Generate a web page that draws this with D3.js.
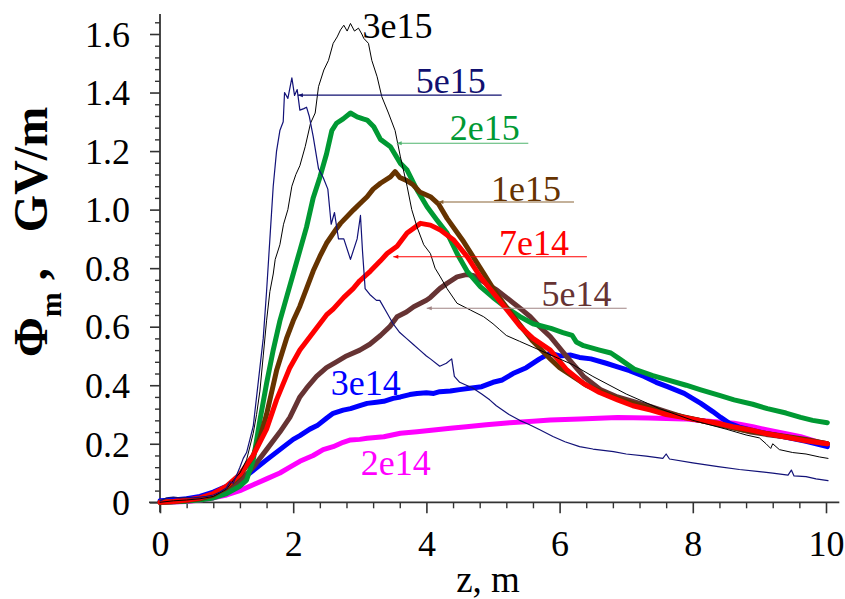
<!DOCTYPE html>
<html>
<head>
<meta charset="utf-8">
<script src="https://cdn.jsdelivr.net/npm/d3@7"></script>
<style>
  body { margin: 0; background: #fff; }
</style>
</head>
<body>
<div id="chart"></div>
<script>
// data: [z in m, phi_m in GV/m]
const s5e15 = [[0,0.005],[0.1,0.015],[0.2,0.018],[0.3,0.015],[0.4,0.017],[0.5,0.015],[0.6,0.018],[0.7,0.02],[0.8,0.025],[0.9,0.035],[1.0,0.05],[1.05,0.07],[1.1,0.065],[1.2,0.12],[1.25,0.15],[1.3,0.17],[1.4,0.26],[1.45,0.36],[1.5,0.46],[1.55,0.56],[1.6,0.72],[1.65,0.9],[1.7,1.08],[1.75,1.2],[1.8,1.27],[1.85,1.3],[1.87,1.4],[1.92,1.38],[1.98,1.45],[2.02,1.39],[2.06,1.41],[2.1,1.34],[2.16,1.345],[2.2,1.35],[2.24,1.32],[2.3,1.25],[2.38,1.14],[2.45,1.11],[2.52,1.07],[2.57,0.95],[2.62,0.99],[2.68,0.9],[2.76,0.9],[2.86,0.83],[2.96,0.9],[3.01,0.98],[3.04,0.86],[3.08,0.73],[3.15,0.71],[3.25,0.69],[3.3,0.69],[3.4,0.65],[3.5,0.61],[3.6,0.58],[3.7,0.56],[3.8,0.54],[3.9,0.52],[4.0,0.5],[4.06,0.49],[4.2,0.465],[4.3,0.475],[4.38,0.49],[4.42,0.43],[4.5,0.41],[4.6,0.4],[4.7,0.39],[4.83,0.37],[4.95,0.35],[5.05,0.33],[5.24,0.3],[5.4,0.28],[5.55,0.265],[5.71,0.247],[5.9,0.225],[6.08,0.207],[6.3,0.19],[6.5,0.182],[6.81,0.173],[7.0,0.165],[7.3,0.158],[7.55,0.15],[7.6,0.165],[7.65,0.148],[8.0,0.135],[8.38,0.122],[8.7,0.112],[9.0,0.105],[9.2,0.1],[9.43,0.093],[9.48,0.11],[9.52,0.09],[9.7,0.088],[9.85,0.08],[10.03,0.074]];
const s3e15 = [[0,0],[0.2,0.005],[0.4,0.008],[0.6,0.012],[0.8,0.02],[1.0,0.045],[1.1,0.075],[1.2,0.1],[1.3,0.145],[1.4,0.236],[1.45,0.3],[1.5,0.38],[1.55,0.5],[1.6,0.62],[1.65,0.72],[1.7,0.78],[1.73,0.83],[1.8,0.88],[1.855,0.95],[1.92,1.0],[1.98,1.08],[2.04,1.12],[2.1,1.15],[2.18,1.215],[2.26,1.295],[2.33,1.33],[2.38,1.42],[2.46,1.477],[2.53,1.51],[2.6,1.568],[2.66,1.59],[2.71,1.614],[2.76,1.63],[2.81,1.61],[2.86,1.636],[2.92,1.61],[2.98,1.62],[3.03,1.6],[3.06,1.585],[3.13,1.568],[3.18,1.51],[3.26,1.454],[3.33,1.386],[3.43,1.33],[3.53,1.27],[3.61,1.18],[3.71,1.08],[3.78,1.0],[3.86,0.94],[3.96,0.88],[4.06,0.85],[4.13,0.8],[4.21,0.77],[4.31,0.73],[4.46,0.68],[4.66,0.657],[4.86,0.634],[5.0,0.61],[5.1,0.59],[5.2,0.57],[5.4,0.55],[5.6,0.53],[5.8,0.51],[6.0,0.49],[6.2,0.47],[6.5,0.43],[7.0,0.37],[7.5,0.32],[8.0,0.28],[8.5,0.25],[8.8,0.23],[9.0,0.22],[9.1,0.2],[9.17,0.184],[9.2,0.2],[9.3,0.18],[9.5,0.17],[9.7,0.165],[9.9,0.155],[10.03,0.15]];
const s2e15 = [[0,0],[0.2,0.002],[0.4,0.004],[0.6,0.008],[0.8,0.015],[1.0,0.03],[1.2,0.055],[1.3,0.076],[1.4,0.145],[1.5,0.28],[1.6,0.406],[1.7,0.52],[1.8,0.62],[1.9,0.7],[2.0,0.78],[2.1,0.86],[2.2,0.94],[2.3,1.04],[2.4,1.11],[2.5,1.19],[2.58,1.27],[2.65,1.295],[2.75,1.31],[2.86,1.33],[2.96,1.317],[3.05,1.31],[3.11,1.306],[3.21,1.283],[3.31,1.24],[3.46,1.215],[3.61,1.158],[3.71,1.135],[3.86,1.067],[4.01,1.01],[4.16,0.964],[4.31,0.92],[4.46,0.85],[4.61,0.79],[4.81,0.737],[5.0,0.7],[5.2,0.665],[5.4,0.635],[5.6,0.61],[5.87,0.594],[6.05,0.58],[6.19,0.57],[6.25,0.548],[6.36,0.535],[6.6,0.52],[6.77,0.51],[6.9,0.49],[7.12,0.455],[7.4,0.433],[7.62,0.418],[7.9,0.4],[8.12,0.384],[8.4,0.365],[8.62,0.35],[8.9,0.335],[9.12,0.32],[9.4,0.305],[9.62,0.29],[9.8,0.28],[10.02,0.272]];
const s1e15 = [[0,0],[0.2,0.003],[0.4,0.006],[0.6,0.012],[0.8,0.025],[1.0,0.05],[1.2,0.09],[1.4,0.16],[1.5,0.22],[1.6,0.3],[1.75,0.45],[1.9,0.56],[2.0,0.62],[2.1,0.67],[2.2,0.73],[2.3,0.79],[2.4,0.84],[2.5,0.885],[2.65,0.935],[2.71,0.953],[2.91,1.0],[3.0,1.02],[3.11,1.044],[3.2,1.07],[3.31,1.09],[3.46,1.112],[3.53,1.13],[3.6,1.11],[3.7,1.1],[3.8,1.085],[3.9,1.06],[4.06,1.044],[4.18,1.02],[4.31,0.97],[4.56,0.89],[4.81,0.8],[5.06,0.71],[5.31,0.634],[5.46,0.59],[5.6,0.55],[5.86,0.49],[6.0,0.46],[6.2,0.43],[6.4,0.4],[6.6,0.38],[6.8,0.36],[7.0,0.345],[7.3,0.325],[7.6,0.305],[7.9,0.29],[8.2,0.275],[8.5,0.26],[8.8,0.245],[9.1,0.235],[9.4,0.225],[9.7,0.215],[10.02,0.2]];
const s7e14 = [[0,0],[0.2,0.003],[0.4,0.008],[0.6,0.015],[0.8,0.03],[1.0,0.055],[1.2,0.095],[1.4,0.16],[1.6,0.25],[1.75,0.35],[1.95,0.46],[2.1,0.52],[2.2,0.55],[2.3,0.58],[2.4,0.61],[2.5,0.64],[2.6,0.66],[2.76,0.7],[2.9,0.73],[3.0,0.757],[3.16,0.79],[3.31,0.825],[3.41,0.85],[3.56,0.875],[3.71,0.92],[3.91,0.953],[4.06,0.947],[4.21,0.93],[4.41,0.896],[4.61,0.84],[4.81,0.77],[5.01,0.714],[5.21,0.657],[5.41,0.6],[5.6,0.56],[5.86,0.52],[6.11,0.452],[6.36,0.406],[6.6,0.375],[6.87,0.35],[7.1,0.33],[7.37,0.315],[7.6,0.3],[7.87,0.29],[8.1,0.28],[8.37,0.27],[8.6,0.258],[8.87,0.247],[9.1,0.235],[9.37,0.224],[9.7,0.21],[10.02,0.2]];
const s5e14 = [[0,0],[0.2,0.002],[0.4,0.005],[0.6,0.01],[0.8,0.02],[1.0,0.04],[1.2,0.07],[1.4,0.12],[1.6,0.18],[1.8,0.24],[1.95,0.29],[2.1,0.36],[2.2,0.39],[2.35,0.43],[2.5,0.46],[2.65,0.48],[2.8,0.5],[3.0,0.52],[3.15,0.54],[3.31,0.57],[3.45,0.6],[3.56,0.634],[3.7,0.65],[3.81,0.668],[4.0,0.69],[4.06,0.7],[4.2,0.73],[4.31,0.748],[4.46,0.77],[4.6,0.778],[4.7,0.775],[4.81,0.76],[4.95,0.74],[5.06,0.725],[5.2,0.7],[5.31,0.68],[5.45,0.655],[5.56,0.634],[5.7,0.6],[5.86,0.566],[6.11,0.497],[6.36,0.43],[6.62,0.384],[6.87,0.36],[7.1,0.345],[7.37,0.327],[7.6,0.31],[7.87,0.29],[8.1,0.28],[8.37,0.27],[8.6,0.255],[8.87,0.24],[9.1,0.232],[9.37,0.224],[9.7,0.212],[10.02,0.2]];
const s3e14 = [[0,0.005],[0.2,0.008],[0.4,0.012],[0.6,0.02],[0.8,0.035],[1.0,0.055],[1.2,0.08],[1.35,0.1],[1.6,0.145],[1.8,0.18],[2.0,0.215],[2.1,0.228],[2.25,0.25],[2.36,0.262],[2.5,0.287],[2.6,0.304],[2.75,0.315],[2.86,0.32],[3.0,0.33],[3.11,0.338],[3.25,0.342],[3.36,0.345],[3.5,0.355],[3.61,0.36],[3.75,0.368],[3.86,0.372],[4.0,0.374],[4.11,0.372],[4.2,0.378],[4.36,0.38],[4.5,0.385],[4.65,0.39],[4.83,0.395],[5.0,0.41],[5.14,0.418],[5.3,0.44],[5.5,0.46],[5.7,0.49],[5.86,0.51],[6.0,0.5],[6.17,0.503],[6.3,0.495],[6.47,0.49],[6.7,0.475],[6.87,0.463],[7.05,0.45],[7.27,0.43],[7.45,0.41],[7.62,0.395],[7.87,0.372],[8.12,0.338],[8.3,0.31],[8.42,0.29],[8.55,0.27],[8.7,0.257],[8.87,0.247],[9.1,0.235],[9.37,0.224],[9.7,0.208],[10.02,0.19]];
const s2e14 = [[0,0],[0.2,0.001],[0.4,0.003],[0.6,0.008],[0.8,0.015],[1.0,0.025],[1.2,0.04],[1.4,0.06],[1.6,0.08],[1.8,0.1],[1.95,0.12],[2.1,0.14],[2.3,0.16],[2.45,0.18],[2.6,0.19],[2.75,0.205],[2.86,0.213],[3.0,0.215],[3.11,0.219],[3.36,0.224],[3.61,0.236],[3.86,0.241],[4.11,0.247],[4.36,0.253],[4.6,0.258],[4.9,0.265],[5.25,0.272],[5.6,0.277],[5.86,0.281],[6.3,0.285],[6.87,0.29],[7.34,0.288],[7.87,0.285],[8.2,0.278],[8.62,0.27],[8.9,0.258],[9.12,0.247],[9.4,0.234],[9.62,0.224],[9.85,0.208],[10.02,0.196]];

const xMajor = [0, 2, 4, 6, 8, 10];
const yMajor = [0, 0.2, 0.4, 0.6, 0.8, 1.0, 1.2, 1.4, 1.6];
const yTickLabels = ["0", "0.2", "0.4", "0.6", "0.8", "1.0", "1.2", "1.4", "1.6"];

const w = 845, h = 599;
const serif = '"Liberation Serif"';

const svg = d3.select('#chart')
  .append('svg')
  .attr('width', w)
  .attr('height', h);

const x = d3.scaleLinear().domain([0, 10]).range([160, 826]);
const y = d3.scaleLinear().domain([0, 1.6]).range([502.3, 34]);

// series styling (drawing order = back to front)
const series = [
  { name: "2e14", data: s2e14, color: "#ff00ff", width: 5 },
  { name: "3e14", data: s3e14, color: "#0000ff", width: 5 },
  { name: "5e14", data: s5e14, color: "#663333", width: 5 },
  { name: "2e15", data: s2e15, color: "#009933", width: 5 },
  { name: "1e15", data: s1e15, color: "#663300", width: 5 },
  { name: "7e14", data: s7e14, color: "#ff0000", width: 5 },
  { name: "3e15", data: s3e15, color: "#000000", width: 1 },
  { name: "5e15", data: s5e15, color: "#121278", width: 1.2 }
];

// label placement in data units: text start, baseline, optional leader line
const labels = [
  { name: "3e15", color: "#000000", tx: 3.04, ty: 1.586 },
  { name: "5e15", color: "#101070", tx: 3.84, ty: 1.398, lx0: 2.07, lx1: 5.13, ly: 1.391, lc: "#101070" },
  { name: "2e15", color: "#009933", tx: 4.35, ty: 1.238, lx0: 3.554, lx1: 5.53, ly: 1.2265, lc: "#4fb46e" },
  { name: "1e15", color: "#663300", tx: 4.97, ty: 1.029, lx0: 4.18, lx1: 6.216, ly: 1.026, lc: "#8a6436" },
  { name: "7e14", color: "#ff0000", tx: 5.09, ty: 0.845, lx0: 3.503, lx1: 6.41, ly: 0.839, lc: "#ff0000" },
  { name: "5e14", color: "#663333", tx: 5.73, ty: 0.672, lx0: 4.005, lx1: 7.007, ly: 0.663, lc: "#a08484" },
  { name: "3e14", color: "#0000ff", tx: 2.565, ty: 0.367 },
  { name: "2e14", color: "#ff00ff", tx: 3.015, ty: 0.0933 }
];

// axes
const axisColor = "#333";
const yMinor = d3.range(0, 1.66, 0.04).filter(v => yMajor.every(m => Math.abs(m - v) > 1e-6));
const xMinor = d3.range(0, 10.21, 0.4).filter(v => xMajor.every(m => Math.abs(m - v) > 1e-6));

const yAxisG = svg.append('g').attr('transform', 'translate(160,0)');
yAxisG.call(d3.axisLeft(y).tickValues(yMajor).tickSize(10).tickSizeOuter(0)
  .tickFormat((d, i) => yTickLabels[i]));
yAxisG.call(g => g.select('.domain').remove());
yAxisG.selectAll('.tick line').attr('stroke', axisColor).attr('stroke-width', 1.6);
yAxisG.selectAll('.tick text')
  .attr('x', -30)
  .attr('dy', '0.34em')
  .style('font-family', serif)
  .style('font-size', '36px')
  .attr('fill', '#000');

const yMinorG = svg.append('g').attr('transform', 'translate(160,0)');
yMinorG.call(d3.axisLeft(y).tickValues(yMinor).tickSize(5).tickFormat(''));
yMinorG.call(g => g.select('.domain').remove());
yMinorG.selectAll('.tick line').attr('stroke', axisColor).attr('stroke-width', 1.4);

const xAxisG = svg.append('g').attr('transform', 'translate(0,' + y(0) + ')');
xAxisG.call(d3.axisBottom(x).tickValues(xMajor).tickSize(11).tickSizeOuter(0).tickFormat(d3.format('d')));
xAxisG.call(g => g.select('.domain').remove());
xAxisG.selectAll('.tick line').attr('stroke', axisColor).attr('stroke-width', 1.6);
xAxisG.selectAll('.tick text')
  .attr('y', 54)
  .attr('dy', 0)
  .style('font-family', serif)
  .style('font-size', '36px')
  .attr('fill', '#000');

const xMinorG = svg.append('g').attr('transform', 'translate(0,' + y(0) + ')');
xMinorG.call(d3.axisBottom(x).tickValues(xMinor).tickSize(6).tickFormat(''));
xMinorG.call(g => g.select('.domain').remove());
xMinorG.selectAll('.tick line').attr('stroke', axisColor).attr('stroke-width', 1.4);

// axis lines
svg.append('line')
  .attr('x1', x(0)).attr('x2', x(0))
  .attr('y1', y(1.668)).attr('y2', y(0) + 10)
  .attr('stroke', axisColor).attr('stroke-width', 1.8);
svg.append('line')
  .attr('x1', x(0) - 11).attr('x2', x(10.2))
  .attr('y1', y(0)).attr('y2', y(0))
  .attr('stroke', axisColor).attr('stroke-width', 1.8);

// curves
const line = d3.line()
  .x(d => x(d[0]))
  .y(d => y(d[1]));

svg.append('g')
  .selectAll('path')
  .data(series)
  .enter()
  .append('path')
  .attr('d', d => line(d.data))
  .attr('fill', 'none')
  .attr('stroke', d => d.color)
  .attr('stroke-width', d => d.width)
  .attr('stroke-linejoin', 'round')
  .attr('stroke-linecap', 'round');

// labels with leader lines
const lab = svg.append('g');
labels.filter(d => d.lx0 !== undefined).forEach(d => {
  lab.append('line')
    .attr('x1', x(d.lx0)).attr('x2', x(d.lx1))
    .attr('y1', y(d.ly)).attr('y2', y(d.ly))
    .attr('stroke', d.lc).attr('stroke-width', 1.1);
  // small arrow head at the curve end
  lab.append('path')
    .attr('d', `M${x(d.lx0)},${y(d.ly)} l5,-2 l0,4 z`)
    .attr('fill', d.lc);
});
lab.selectAll('text')
  .data(labels)
  .enter()
  .append('text')
  .attr('x', d => x(d.tx))
  .attr('y', d => y(d.ty))
  .attr('fill', d => d.color)
  .style('font-family', serif)
  .style('font-size', '36px')
  .text(d => d.name);

// axis titles
svg.append('text')
  .attr('x', 488)
  .attr('y', 592)
  .attr('text-anchor', 'middle')
  .style('font-family', serif)
  .style('font-size', '37px')
  .text('z, m');

const yt = svg.append('text')
  .attr('transform', 'translate(47,357) rotate(-90)')
  .attr('x', 0).attr('y', 0)
  .style('font-family', serif)
  .style('font-size', '48px')
  .style('font-weight', 'bold')
  .attr('xml:space', 'preserve');
yt.append('tspan').text('\u03A6');
yt.append('tspan').attr('dy', 14).style('font-size', '30px').text('m');
yt.append('tspan').attr('dy', -14).text(' ,   GV/m');
</script>
</body>
</html>
